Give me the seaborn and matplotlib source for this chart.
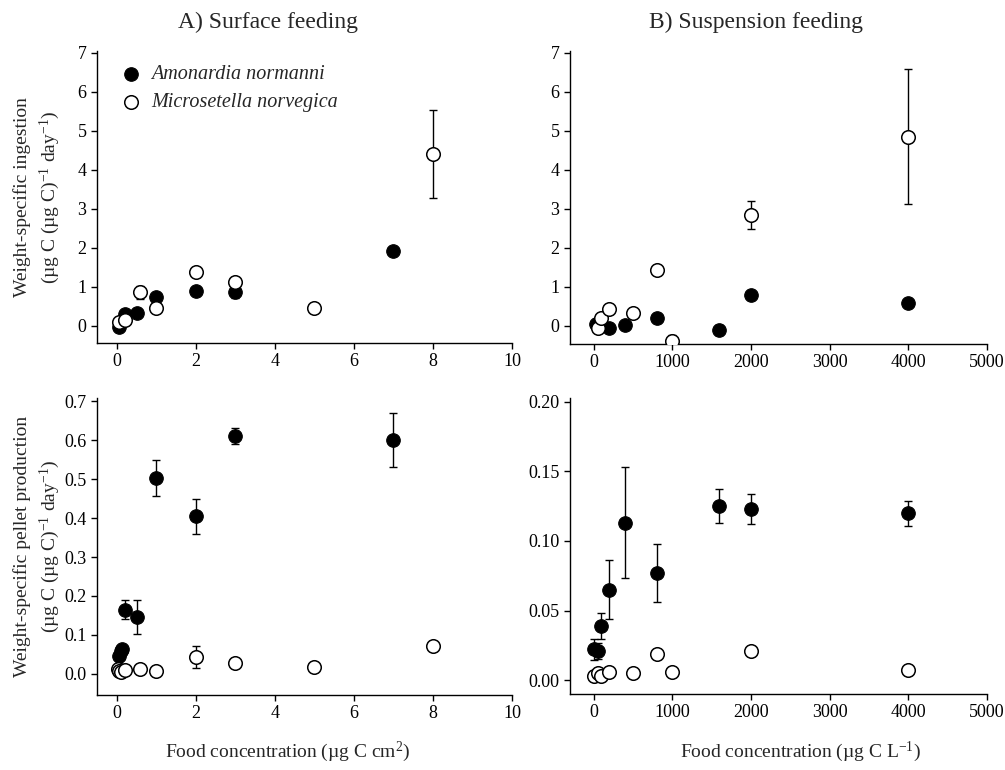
import matplotlib
matplotlib.use("Agg")
import matplotlib.pyplot as plt
import numpy as np
import pandas as pd
import seaborn as sns

# ---- data ----
# A) surface feeding, ingestion
a_ing_amo_x = [0.05, 0.2, 0.5, 1, 2, 3, 7]
a_ing_amo_y = [-0.02, 0.31, 0.33, 0.73, 0.90, 0.88, 1.92]
a_ing_amo_e = [0, 0, 0, 0, 0, 0.17, 0]
a_ing_mic_x = [0.05, 0.2, 0.6, 1, 2, 3, 5, 8]
a_ing_mic_y = [0.10, 0.14, 0.86, 0.47, 1.39, 1.12, 0.45, 4.40]
a_ing_mic_e = [0, 0, 0.17, 0, 0, 0, 0, 1.13]

# B) suspension feeding, ingestion
b_ing_amo_x = [25, 200, 400, 800, 1600, 2000, 4000]
b_ing_amo_y = [0.05, -0.07, 0.03, 0.20, -0.10, 0.80, 0.57]
b_ing_amo_e = [0, 0, 0, 0, 0.13, 0, 0]
b_ing_mic_x = [50, 100, 200, 500, 800, 1000, 2000, 4000]
b_ing_mic_y = [-0.06, 0.20, 0.42, 0.33, 1.42, -0.40, 2.84, 4.85]
b_ing_mic_e = [0, 0, 0, 0, 0, 0.17, 0.36, 1.73]

# A) surface feeding, pellet production
a_pel_amo_x = [0.05, 0.1, 0.12, 0.2, 0.5, 1, 2, 3, 7]
a_pel_amo_y = [0.045, 0.058, 0.063, 0.165, 0.146, 0.503, 0.405, 0.610, 0.600]
a_pel_amo_e = [0.012, 0, 0, 0.025, 0.043, 0.047, 0.045, 0.020, 0.069]
a_pel_mic_x = [0.02, 0.05, 0.1, 0.2, 0.6, 1, 2, 3, 5, 8]
a_pel_mic_y = [0.012, 0.008, 0.006, 0.010, 0.013, 0.008, 0.043, 0.027, 0.018, 0.072]
a_pel_mic_e = [0, 0, 0, 0, 0, 0, 0.028, 0, 0, 0]

# B) suspension feeding, pellet production
b_pel_amo_x = [0, 50, 100, 200, 400, 800, 1600, 2000, 4000]
b_pel_amo_y = [0.022, 0.021, 0.039, 0.065, 0.113, 0.077, 0.125, 0.123, 0.120]
b_pel_amo_e = [0.0075, 0.006, 0.0095, 0.021, 0.040, 0.021, 0.012, 0.0105, 0.009]
b_pel_mic_x = [0, 50, 100, 200, 500, 800, 1000, 2000, 4000]
b_pel_mic_y = [0.003, 0.005, 0.003, 0.006, 0.005, 0.019, 0.006, 0.021, 0.007]
b_pel_mic_e = [0, 0, 0, 0, 0, 0.003, 0, 0.002, 0]

species = ["Amonardia normanni", "Microsetella norvegica"]

sns.set_theme(style="ticks")
plt.rcParams["font.family"] = ["Liberation Serif", "DejaVu Serif"]
plt.rcParams["mathtext.fontset"] = "custom"
plt.rcParams["mathtext.rm"] = "Liberation Serif"
plt.rcParams["mathtext.it"] = "Liberation Serif:italic"
plt.rcParams["axes.linewidth"] = 1.0
plt.rcParams["xtick.major.size"] = 4
plt.rcParams["ytick.major.size"] = 4
plt.rcParams["xtick.major.width"] = 1.0
plt.rcParams["ytick.major.width"] = 1.0

W, H = 1005, 770
fig = plt.figure(figsize=(W / 100, H / 100), dpi=100)


def px_axes(l, r, t, b):
    return fig.add_axes([l / W, 1 - b / H, (r - l) / W, (b - t) / H])


def draw(ax, amo, mic, legend=False):
    for (x, y, e), filled, name in [(amo, True, species[0]), (mic, False, species[1])]:
        df = pd.DataFrame({"x": x, "y": y, "e": e})
        eb = df[df["e"] > 0]
        ax.errorbar(eb["x"], eb["y"], yerr=eb["e"], fmt="none", ecolor="black",
                    elinewidth=1.0, capsize=3, capthick=1.0, zorder=2)
        if filled:
            sns.scatterplot(data=df, x="x", y="y", ax=ax, color="black", edgecolor="black",
                            s=95, linewidth=0.8, label=name, zorder=3, legend=legend)
        else:
            sns.scatterplot(data=df, x="x", y="y", ax=ax, facecolor="white", edgecolor="black",
                            s=95, linewidth=1.1, label=name, zorder=4, legend=legend)
    ax.set_xlabel("")
    ax.set_ylabel("")
    sns.despine(ax=ax)
    ax.tick_params(labelsize=13, direction="out", color="black", labelcolor="black")
    for s in ax.spines.values():
        s.set_color("black")


ax1 = px_axes(97, 512, 51, 343)
draw(ax1, (a_ing_amo_x, a_ing_amo_y, a_ing_amo_e), (a_ing_mic_x, a_ing_mic_y, a_ing_mic_e), legend=True)
ax1.set_xlim(-0.5, 10)
ax1.set_ylim(-0.44, 7.05)
ax1.set_xticks(range(0, 11, 2))
ax1.set_yticks(range(0, 8))
ax1.legend(loc="upper left", bbox_to_anchor=(0.0, 1.0), frameon=False, handletextpad=0.0,
           labelspacing=0.45, borderaxespad=0.3, prop={"family": "Liberation Serif",
                                                       "style": "italic", "size": 14.5})

ax2 = px_axes(570, 987, 51, 344)
draw(ax2, (b_ing_amo_x, b_ing_amo_y, b_ing_amo_e), (b_ing_mic_x, b_ing_mic_y, b_ing_mic_e))
ax2.set_xlim(-300, 5000)
ax2.set_ylim(-0.47, 7.05)
ax2.set_xticks(range(0, 5001, 1000))
ax2.set_yticks(range(0, 8))

ax3 = px_axes(97, 512, 398, 695)
draw(ax3, (a_pel_amo_x, a_pel_amo_y, a_pel_amo_e), (a_pel_mic_x, a_pel_mic_y, a_pel_mic_e))
ax3.set_xlim(-0.5, 10)
ax3.set_ylim(-0.054, 0.708)
ax3.set_xticks(range(0, 11, 2))
ax3.set_yticks(np.arange(0, 0.71, 0.1))
ax3.set_yticklabels([f"{v:.1f}" for v in np.arange(0, 0.71, 0.1)])

ax4 = px_axes(570, 987, 398, 694)
draw(ax4, (b_pel_amo_x, b_pel_amo_y, b_pel_amo_e), (b_pel_mic_x, b_pel_mic_y, b_pel_mic_e))
ax4.set_xlim(-300, 5000)
ax4.set_ylim(-0.010, 0.2027)
ax4.set_xticks(range(0, 5001, 1000))
ax4.set_yticks(np.arange(0, 0.201, 0.05))
ax4.set_yticklabels([f"{v:.2f}" for v in np.arange(0, 0.201, 0.05)])

ax1.set_ylabel("Weight-specific ingestion\n(µg C (µg C)$^{-1}$ day$^{-1}$)", fontsize=14,
               linespacing=1.35)
ax1.yaxis.set_label_coords(-0.085, 0.5)
ax3.set_ylabel("Weight-specific pellet production\n(µg C (µg C)$^{-1}$ day$^{-1}$)", fontsize=14,
               linespacing=1.35)
ax3.yaxis.set_label_coords(-0.085, 0.5)

fig.text(288 / W, 1 - 752 / H, "Food concentration (µg C cm$^{2}$)", ha="center", va="center",
         fontsize=14)
fig.text(800 / W, 1 - 752 / H, "Food concentration (µg C L$^{-1}$)", ha="center", va="center",
         fontsize=14)

fig.text(268 / W, 1 - 22 / H, "A) Surface feeding", ha="center", va="center", fontsize=17)
fig.text(756 / W, 1 - 22 / H, "B) Suspension feeding", ha="center", va="center", fontsize=17)

fig.savefig("out.png", dpi=100)
